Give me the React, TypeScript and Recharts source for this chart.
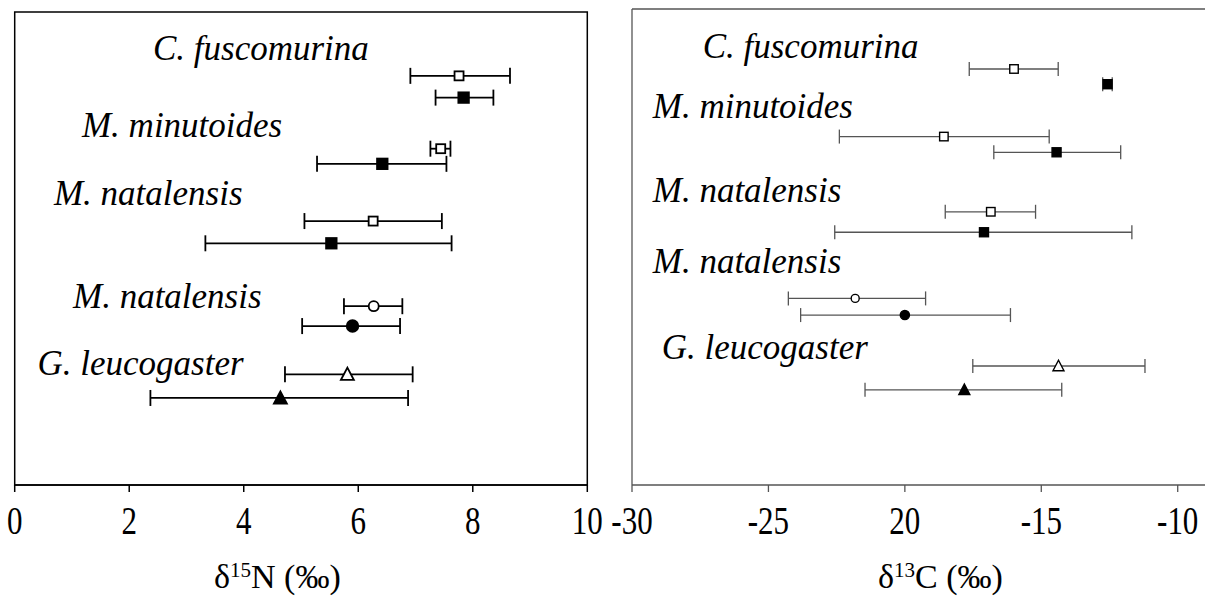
import React from 'react';
import {
  ScatterChart,
  Scatter,
  XAxis,
  YAxis,
  ErrorBar,
  ReferenceArea,
  ReferenceLine,
} from 'recharts';

const SERIF = 'Liberation Serif, Times New Roman, serif';

// rows, top to bottom: open/filled pairs for each group
const markerKinds = ['square', 'square', 'square', 'square', 'square', 'square', 'circle', 'circle', 'triangle', 'triangle'];
const markerFilled = [false, true, false, true, false, true, false, true, false, true];

// δ15N panel
const nMeans = [7.76, 7.84, 7.44, 6.42, 6.26, 5.53, 6.27, 5.9, 5.81, 4.64];
const nLow = [6.91, 7.35, 7.26, 5.28, 5.06, 3.33, 5.75, 5.02, 4.72, 2.37];
const nHigh = [8.65, 8.36, 7.61, 7.54, 7.46, 7.63, 6.77, 6.73, 6.95, 6.87];
const nRows = [13.5, 18.1, 28.9, 32.1, 44.2, 48.9, 62.2, 66.4, 76.6, 81.6];

// δ13C panel
const cMeans = [-16.0, -12.57, -18.57, -14.44, -16.85, -17.1, -21.82, -20.0, -14.37, -17.82];
const cLow = [-17.64, -12.75, -22.4, -16.74, -18.52, -22.57, -24.27, -23.82, -17.51, -21.46];
const cHigh = [-14.38, -12.4, -14.71, -12.09, -15.21, -11.68, -19.24, -16.13, -11.2, -14.25];
const cRows = [12.6, 15.8, 26.8, 30.1, 42.6, 46.9, 60.8, 64.3, 75.0, 80.0];

// species names and where they sit
const species = ['C. fuscomurina', 'M. minutoides', 'M. natalensis', 'M. natalensis', 'G. leucogaster'];
const nLabelX = [2.415, 1.175, 0.686, 1.018, 0.398];
const nLabelRow = [10.1, 26.4, 40.8, 62.6, 76.7];
const cLabelX = [-27.41, -29.24, -29.24, -29.24, -28.91];
const cLabelRow = [10.3, 22.9, 40.5, 55.5, 73.5];

const nTicks = [0, 2, 4, 6, 8, 10];
const nTickLabels = ['0', '2', '4', '6', '8', '10'];
const cTicks = [-30, -25, -20, -15, -10];
const cTickLabels = ['-30', '-25', '20', '-15', '-10'];

const buildPoints = (means: number[], low: number[], high: number[], rows: number[]) =>
  means.map((m, i) => ({
    x: m,
    y: rows[i],
    err: [m - low[i], high[i] - m],
    kind: markerKinds[i],
    filled: markerFilled[i],
  }));

const buildLabels = (xs: number[], rows: number[]) =>
  species.map((name, i) => ({ x: xs[i], y: rows[i], name }));

const nPoints = buildPoints(nMeans, nLow, nHigh, nRows);
const cPoints = buildPoints(cMeans, cLow, cHigh, cRows);
const nLabels = buildLabels(nLabelX, nLabelRow);
const cLabels = buildLabels(cLabelX, cLabelRow);

type MarkerStyle = { sq: number; sqFill: number; r: number; rFill: number; tri: number; sw: number; color: string };

const makeMarker = (s: MarkerStyle) => (props: any) => {
  const { cx, cy, payload } = props;
  if (cx == null || cy == null) return <g />;
  const fill = payload.filled ? s.color : '#fff';
  if (payload.kind === 'square') {
    const side = payload.filled ? s.sqFill : s.sq;
    return (
      <rect x={cx - side / 2} y={cy - side / 2} width={side} height={side}
        fill={fill} stroke={s.color} strokeWidth={s.sw} />
    );
  }
  if (payload.kind === 'circle') {
    return <circle cx={cx} cy={cy} r={payload.filled ? s.rFill : s.r} fill={fill} stroke={s.color} strokeWidth={s.sw} />;
  }
  const t = s.tri;
  const h = t * 0.87;
  const pts = `${cx},${cy - h / 2 - 1} ${cx - t / 2},${cy + h / 2} ${cx + t / 2},${cy + h / 2}`;
  return <polygon points={pts} fill={fill} stroke={s.color} strokeWidth={s.sw} strokeLinejoin="miter" />;
};

const speciesLabel = (props: any) => {
  const { cx, cy, payload } = props;
  if (cx == null) return <g />;
  return (
    <text x={cx} y={cy} style={{ fontFamily: SERIF, fontStyle: 'italic', fontSize: 35 }} fill="#000">
      {payload.name}
    </text>
  );
};

const makeTick = (ticks: number[], labels: string[]) => (props: any) => {
  const { x, y, payload } = props;
  const label = labels[ticks.indexOf(payload.value)];
  return (
    <g transform={`translate(${x},${y}) scale(1,1.3)`}>
      <text x={0} y={31} textAnchor="middle" style={{ fontFamily: SERIF, fontSize: 31 }} fill="#000">
        {label}
      </text>
    </g>
  );
};

const leftMarker = makeMarker({ sq: 9, sqFill: 10.5, r: 5, rFill: 5.8, tri: 13, sw: 1.8, color: '#000' });
const rightMarker = makeMarker({ sq: 8.5, sqFill: 9, r: 4, rFill: 4.6, tri: 11, sw: 1.4, color: '#000' });

const titleStyle: React.CSSProperties = {
  position: 'absolute',
  top: 560,
  fontFamily: SERIF,
  fontSize: 34,
  lineHeight: '34px',
  color: '#000',
  whiteSpace: 'nowrap',
};

const supStyle: React.CSSProperties = { fontSize: 21, verticalAlign: 'top', lineHeight: '21px' };

export default function App() {
  return (
    <div style={{ position: 'fixed', left: 0, top: 0, width: 1205, height: 598, background: '#fff', overflow: 'hidden' }}>
      <div style={{ position: 'absolute', left: 0, top: 0 }}>
        <ScatterChart width={620} height={598} margin={{ top: 12, right: 32.7, left: 14.7, bottom: 73 }}>
          <XAxis
            type="number"
            dataKey="x"
            domain={[0, 10]}
            ticks={nTicks}
            allowDataOverflow
            height={40}
            tickSize={7}
            axisLine={{ stroke: '#000', strokeWidth: 1.5 }}
            tickLine={{ stroke: '#000', strokeWidth: 1.5 }}
            tick={makeTick(nTicks, nTickLabels)}
          />
          <YAxis type="number" dataKey="y" domain={[0, 100]} reversed hide allowDataOverflow />
          <ReferenceArea x1={0} x2={10} y1={0} y2={100} fill="none" stroke="#000" strokeWidth={1.5} fillOpacity={0} />
          <Scatter data={nPoints} shape={leftMarker} isAnimationActive={false}>
            <ErrorBar dataKey="err" direction="x" width={8} stroke="#000" strokeWidth={1.8} />
          </Scatter>
          <Scatter data={nLabels} shape={speciesLabel} isAnimationActive={false} />
        </ScatterChart>
      </div>
      <div style={{ position: 'absolute', left: 600, top: 0 }}>
        <ScatterChart width={605} height={598} margin={{ top: 9, right: 0, left: 32, bottom: 73 }}>
          <XAxis
            type="number"
            dataKey="x"
            domain={[-30, -9]}
            ticks={cTicks}
            allowDataOverflow
            height={40}
            tickSize={7}
            axisLine={{ stroke: '#555', strokeWidth: 1.3 }}
            tickLine={{ stroke: '#555', strokeWidth: 1.3 }}
            tick={makeTick(cTicks, cTickLabels)}
          />
          <YAxis type="number" dataKey="y" domain={[0, 100]} reversed hide allowDataOverflow />
          <ReferenceLine y={0} stroke="#555" strokeWidth={1.3} />
          <ReferenceLine x={-30} stroke="#555" strokeWidth={1.3} />
          <Scatter data={cPoints} shape={rightMarker} isAnimationActive={false}>
            <ErrorBar dataKey="err" direction="x" width={7} stroke="#555" strokeWidth={1.3} />
          </Scatter>
          <Scatter data={cLabels} shape={speciesLabel} isAnimationActive={false} />
        </ScatterChart>
      </div>
      <div style={{ ...titleStyle, left: 214 }}>
        δ<sup style={supStyle}>15</sup>N (‰)
      </div>
      <div style={{ ...titleStyle, left: 878 }}>
        δ<sup style={supStyle}>13</sup>C (‰)
      </div>
    </div>
  );
}
